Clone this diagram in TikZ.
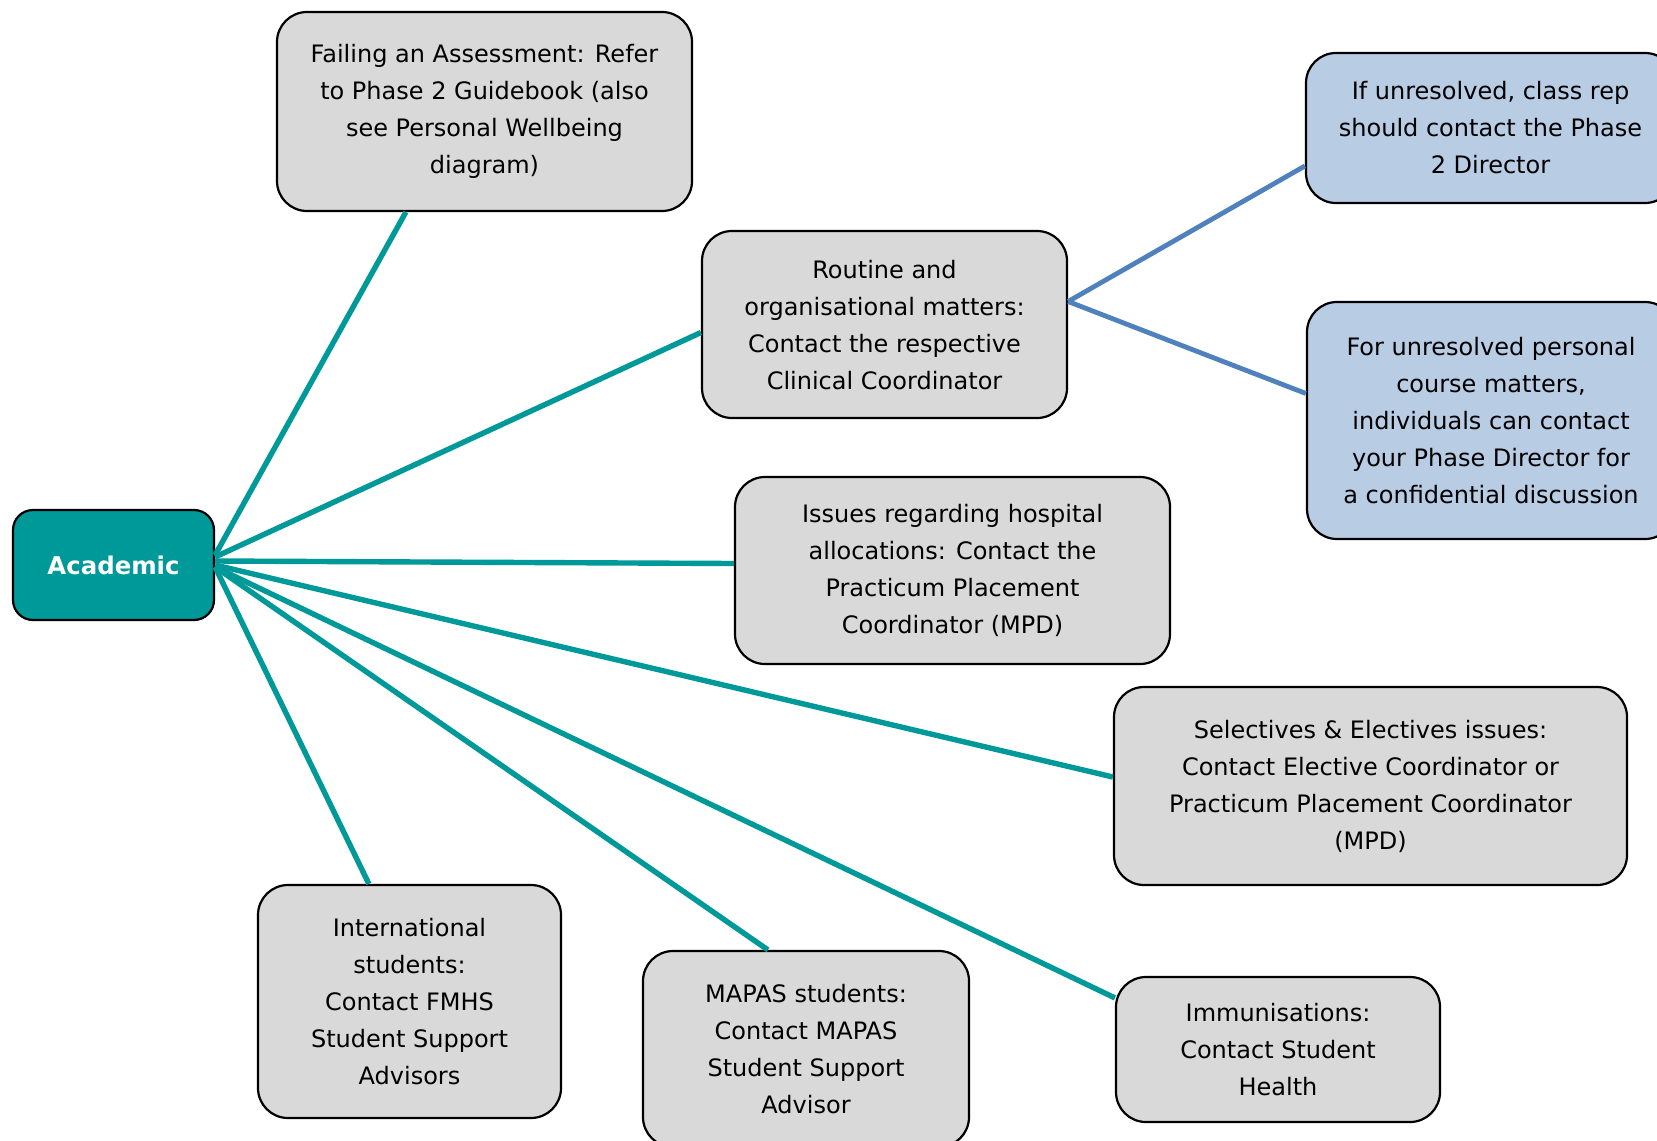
\documentclass[tikz,border=0pt]{standalone}
\usepackage{fontspec}
\setmainfont{DejaVu Sans}
\usetikzlibrary{calc}
\definecolor{teal1}{RGB}{0,153,153}
\definecolor{grayfill}{RGB}{217,217,217}
\definecolor{bluefill}{RGB}{184,204,228}
\definecolor{blueline}{RGB}{79,129,189}
\tikzset{
  box/.style={draw=black, line width=1.1pt, rounded corners=15pt, fill=grayfill, align=center, inner sep=0pt,
    font=\fontsize{12pt}{18.5pt}\selectfont},
  bluebox/.style={box, fill=bluefill},
  root/.style={draw=black, line width=1.1pt, rounded corners=10pt, fill=teal1, text=white, inner sep=0pt,
    font=\fontsize{12.2pt}{14pt}\selectfont\bfseries},
  tline/.style={draw=teal1, line width=2.7pt},
  bline/.style={draw=blueline, line width=2.4pt},
}
\begin{document}
\begin{tikzpicture}[x=0.5pt,y=-0.5pt]
\useasboundingbox (0,0) rectangle (1657,1140);
\clip (0,0) rectangle (1657,1140);
\fill[white] (0,0) rectangle (1657,1140);
\node[root, minimum width=100.5pt, minimum height=55pt] (acad) at (113.5,565) {Academic};
\node[box, minimum width=207.5pt, minimum height=99.5pt] (fail) at (484.5,111.5)
  {Failing an Assessment: Refer\\to Phase 2 Guidebook (also\\see Personal Wellbeing\\diagram)};
\node[box, minimum width=182.5pt, minimum height=93.5pt, text depth=0pt] (rout) at (884.5,324.5)
  {Routine and\\organisational matters:\\Contact the respective\\Clinical Coordinator};
\node[bluebox, minimum width=184.5pt, minimum height=75pt] (crep) at (1490.5,128)
  {If unresolved, class rep\\should contact the Phase\\2 Director};
\node[bluebox, minimum width=184pt, minimum height=118.5pt] (unres) at (1491,420.5)
  {For unresolved personal\\course matters,\\individuals can contact\\your Phase Director for\\a confidential discussion};
\node[box, minimum width=217.5pt, minimum height=93.5pt] (hosp) at (952.5,570.5)
  {Issues regarding hospital\\allocations: Contact the\\Practicum Placement\\Coordinator (MPD)};
\node[box, minimum width=256.5pt, minimum height=99pt] (sel) at (1370.5,786)
  {Selectives \& Electives issues:\\Contact Elective Coordinator or\\Practicum Placement Coordinator\\(MPD)};
\node[box, minimum width=162pt, minimum height=72.5pt] (imm) at (1278,1049.5)
  {Immunisations:\\Contact Student\\Health};
\node[box, minimum width=163pt, minimum height=98pt] (mapas) at (806,1049)
  {MAPAS students:\\Contact MAPAS\\Student Support\\Advisor};
\node[box, minimum width=151.5pt, minimum height=116.5pt] (intl) at (409.5,1001.5)
  {International\\students:\\Contact FMHS\\Student Support\\Advisors};
% connectors
\draw[tline] ($(acad.east)+(0,-10)$) -- ($(fail.south west)+(130,0)$);
\draw[tline] ($(acad.east)+(0,-8)$) -- ($(rout.west)+(0,8)$);
\draw[tline] ($(acad.east)+(0,-4)$) -- ($(hosp.west)+(0,-7)$);
\draw[tline] ($(acad.east)+(0,0)$) -- ($(sel.west)+(0,-9)$);
\draw[tline] ($(acad.east)+(0,2)$) -- ($(imm.north west)+(0,22)$);
\draw[tline] ($(acad.east)+(0,2)$) -- ($(mapas.north west)+(126,0)$);
\draw[tline] ($(acad.east)+(0,2)$) -- ($(intl.north west)+(112,0)$);
\draw[bline] ($(rout.east)+(0,-23)$) -- ($(crep.west)+(0,38)$);
\draw[bline] ($(rout.east)+(0,-23)$) -- ($(unres.west)+(0,-27)$);
\end{tikzpicture}
\end{document}
